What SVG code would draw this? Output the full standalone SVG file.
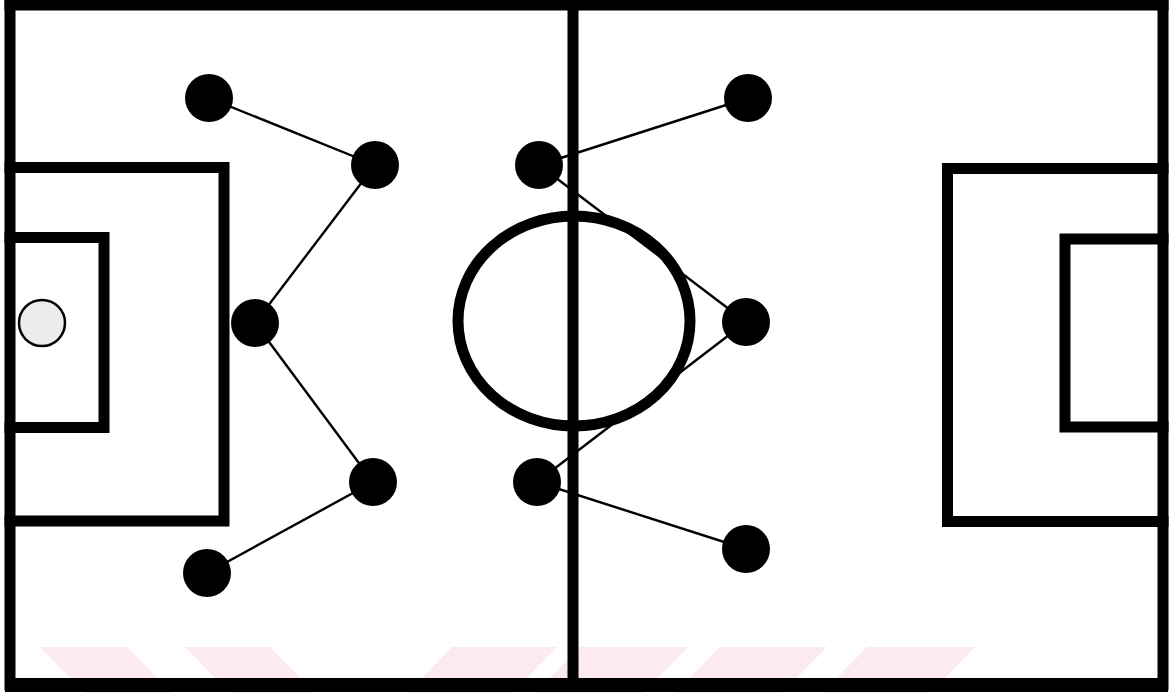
<svg xmlns="http://www.w3.org/2000/svg" width="1174" height="693" viewBox="0 0 1174 693">
<style>
.line{fill:none;stroke:#000;stroke-width:11;stroke-linecap:square}
.mark{fill:#fdeaee}
.player{fill:#000}
.conn{stroke:#000;stroke-width:2.4;fill:none}
</style>
<rect x="0" y="0" width="1174" height="693" fill="#fff"/>
<g id="watermark">
<polygon class="mark" points="40,647 127,647 172,693 85,693"/>
<polygon class="mark" points="185,647 270,647 315,693 230,693"/>
<polygon class="mark" points="452,647 557,647 512,693 407,693"/>
<polygon class="mark" points="580,647 688,647 643,693 535,693"/>
<polygon class="mark" points="720,647 827,647 782,693 675,693"/>
<polygon class="mark" points="867,647 975,647 930,693 822,693"/>
</g>
<g id="field">
<line class="line" x1="10" y1="5" x2="1163" y2="5"/>
<line class="line" x1="10" y1="5" x2="10" y2="685"/>
<line class="line" x1="1163" y1="5" x2="1163" y2="685"/>
<line x1="5" y1="685" x2="1168" y2="685" stroke="#000" stroke-width="14"/>
<line x1="573" y1="5" x2="573" y2="685" stroke="#000" stroke-width="11"/>
<ellipse cx="574" cy="321" rx="116" ry="105" fill="none" stroke="#000" stroke-width="11"/>
<polyline class="line" points="10,167.5 224,167.5 224,521 10,521"/>
<polyline class="line" points="10,237.5 104,237.5 104,427.5 10,427.5"/>
<polyline class="line" points="1163,168.5 947.5,168.5 947.5,521.5 1163,521.5"/>
<polyline class="line" points="1163,239 1065,239 1065,427 1163,427"/>
</g>
<g id="ball">
<circle cx="42" cy="323" r="23" fill="#ececec" stroke="#000" stroke-width="2.5"/>
</g>
<g id="connectors">
<line class="conn" x1="209" y1="98" x2="375" y2="165"/>
<line class="conn" x1="375" y1="165" x2="255" y2="323"/>
<line class="conn" x1="255" y1="323" x2="373" y2="482"/>
<line class="conn" x1="373" y1="482" x2="207" y2="573"/>
<line class="conn" x1="539" y1="165" x2="748" y2="98"/>
<line class="conn" x1="539" y1="165" x2="746" y2="322"/>
<line class="conn" x1="537" y1="482" x2="746" y2="322"/>
<line class="conn" x1="537" y1="482" x2="746" y2="549"/>
</g>
<g id="p1"><circle class="player" cx="209" cy="98" r="24"/></g>
<g id="p2"><circle class="player" cx="375" cy="165" r="24"/></g>
<g id="p3"><circle class="player" cx="255" cy="323" r="24"/></g>
<g id="p4"><circle class="player" cx="373" cy="482" r="24"/></g>
<g id="p5"><circle class="player" cx="207" cy="573" r="24"/></g>
<g id="p6"><circle class="player" cx="539" cy="165" r="24"/></g>
<g id="p7"><circle class="player" cx="748" cy="98" r="24"/></g>
<g id="p8"><circle class="player" cx="746" cy="322" r="24"/></g>
<g id="p9"><circle class="player" cx="537" cy="482" r="24"/></g>
<g id="p10"><circle class="player" cx="746" cy="549" r="24"/></g>
</svg>
